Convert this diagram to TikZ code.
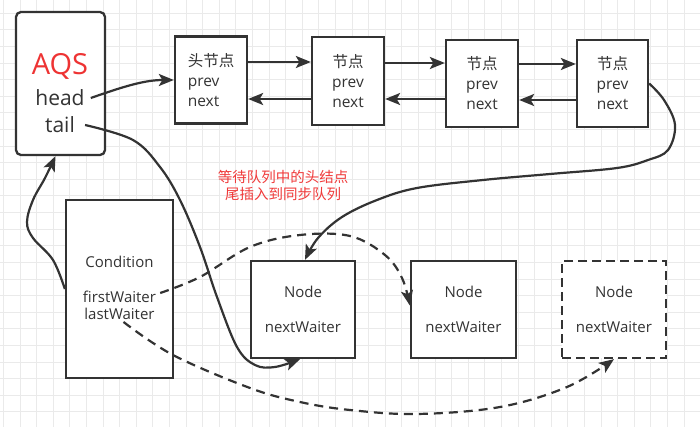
\documentclass[tikz,border=0pt]{standalone}
\usepackage{fontspec}
\setmainfont{Open Sans}
\newfontfamily\cjk{Noto Sans CJK SC}
\usetikzlibrary{arrows.meta}
\definecolor{ink}{HTML}{333333}
\definecolor{gridc}{HTML}{EAEAEA}
\definecolor{aqsred}{HTML}{EE3333}
\definecolor{notered}{HTML}{F03A3A}
\begin{document}
\begin{tikzpicture}[x=1pt,y=-1pt,
  box/.style={draw=ink, line width=2.3pt, fill=white, inner sep=0pt, text=ink},
  qbox/.style={box, minimum width=72pt, minimum height=87pt, align=center, font=\fontsize{15.5}{20}\selectfont},
  wbox/.style={box, minimum width=104pt, minimum height=97pt, align=center, font=\fontsize{15}{35}\selectfont},
  lbl/.style={text=ink, inner sep=0pt},
  conn/.style={draw=ink, line width=2.2pt, -{Stealth[length=15pt,width=12pt,inset=3.5pt]}},
  dconn/.style={conn, dash pattern=on 9pt off 6pt},
]
\useasboundingbox[fill=white] (0,0) rectangle (700,427);
\foreach \i in {0,...,41} \draw[gridc, line width=0.8pt] ({3.3+\i*16.6},0) -- ({3.3+\i*16.6},427);
\foreach \j in {0,...,24} \draw[gridc, line width=0.8pt] (0,{13.3+\j*16.6}) -- (700,{13.3+\j*16.6});

% AQS box
\node[box, rounded corners=5pt, minimum width=89pt, minimum height=143pt] (aqs) at (60.5,83.5) {};
\node[lbl, text=aqsred, font=\fontsize{29}{30}\selectfont] (aqsT) at (60,66) {AQS};
\node[lbl, font=\fontsize{21}{24}\selectfont] (head) at (60,98) {head};
\node[lbl, font=\fontsize{21}{24}\selectfont] (tail) at (60,125) {tail};

% sync queue
\node[qbox, align=left] (b1) at (211,80) {{\cjk 头节点}\\prev\\next};
\node[qbox, minimum height=88pt] (b2) at (348,81) {{\cjk 节点}\\prev\\next};
\node[qbox] (b3) at (482,83.5) {{\cjk 节点}\\prev\\next};
\node[qbox, minimum width=71pt] (b4) at (612.5,83.5) {{\cjk 节点}\\prev\\next};

% condition
\node[box, minimum width=107pt, minimum height=178pt] (cond) at (119.5,289) {};
\node[lbl, font=\fontsize{15}{18}\selectfont] (condT) at (119.5,262) {Condition};
\node[lbl, font=\fontsize{15}{18}\selectfont] (fw) at (119.5,297) {firstWaiter};
\node[lbl, font=\fontsize{15}{18}\selectfont] (lw) at (119.5,314) {lastWaiter};

% waiter nodes
\node[wbox] (n1) at (303,309.5) {Node\\nextWaiter};
\node[wbox, minimum width=105pt] (n2) at (463.5,309.5) {Node\\nextWaiter};
\node[wbox, dash pattern=on 9pt off 5pt] (n3) at (614,309.5) {Node\\nextWaiter};

% note
\node[text=notered, align=center, font=\cjk\fontsize{14.5}{17.5}\selectfont, inner sep=0pt] (note) at (283,185.5) {等待队列中的头结点\\尾插入到同步队列};

% queue arrows
\draw[conn] (b1.east |- 0,62) -- (b2.west |- 0,62);
\draw[conn] (b2.west |- 0,99) -- (b1.east |- 0,99);
\draw[conn] (b2.east |- 0,63) -- (b3.west |- 0,63);
\draw[conn] (b3.west |- 0,99) -- (b2.east |- 0,99);
\draw[conn] (b3.east |- 0,64) -- (b4.west |- 0,64);
\draw[conn] (b4.west |- 0,100) -- (b3.east |- 0,100);

% head -> first node
\draw[conn] ([xshift=6pt]head.east) .. controls (125,86) and (145,80) .. (b1.west);

% tail -> n1
\draw[conn] plot[smooth, tension=0.6] coordinates {([xshift=10pt]tail.east) (133,140) (160,167) (180,200) (200,247) (217,297) (237,347) (255,365) (275,367) ([xshift=-3pt]n1.south)};

% b4 -> n1
\draw[conn] plot[smooth, tension=0.6] coordinates {(b4.east) (664,100) (675,125) (668,150) (648,160) (617,168) (550,174) (483,180) (417,188) (377,200) (342,217) (318,238) ([xshift=2pt]n1.north)};

% condition -> AQS
\draw[conn] plot[smooth, tension=0.6] coordinates {(cond.west) (53,260) (33,238) (27,222) (33,200) (45,178) ([xshift=-5pt]aqs.south)};

% firstWaiter -> n2
\draw[dconn] plot[smooth, tension=0.6] coordinates {([xshift=4pt,yshift=4pt]fw.east) (200,277) (250,247) (300,235) (350,236) (385,255) (402,278) ([yshift=4pt]n2.west)};

% lastWaiter -> n3
\draw[dconn] plot[smooth, tension=0.6] coordinates {([xshift=4pt,yshift=-2pt]lw.south) (173,355) (250,388) (300,402) (350,410) (417,414) (500,407) (567,387) (n3.south)};
\end{tikzpicture}
\end{document}
